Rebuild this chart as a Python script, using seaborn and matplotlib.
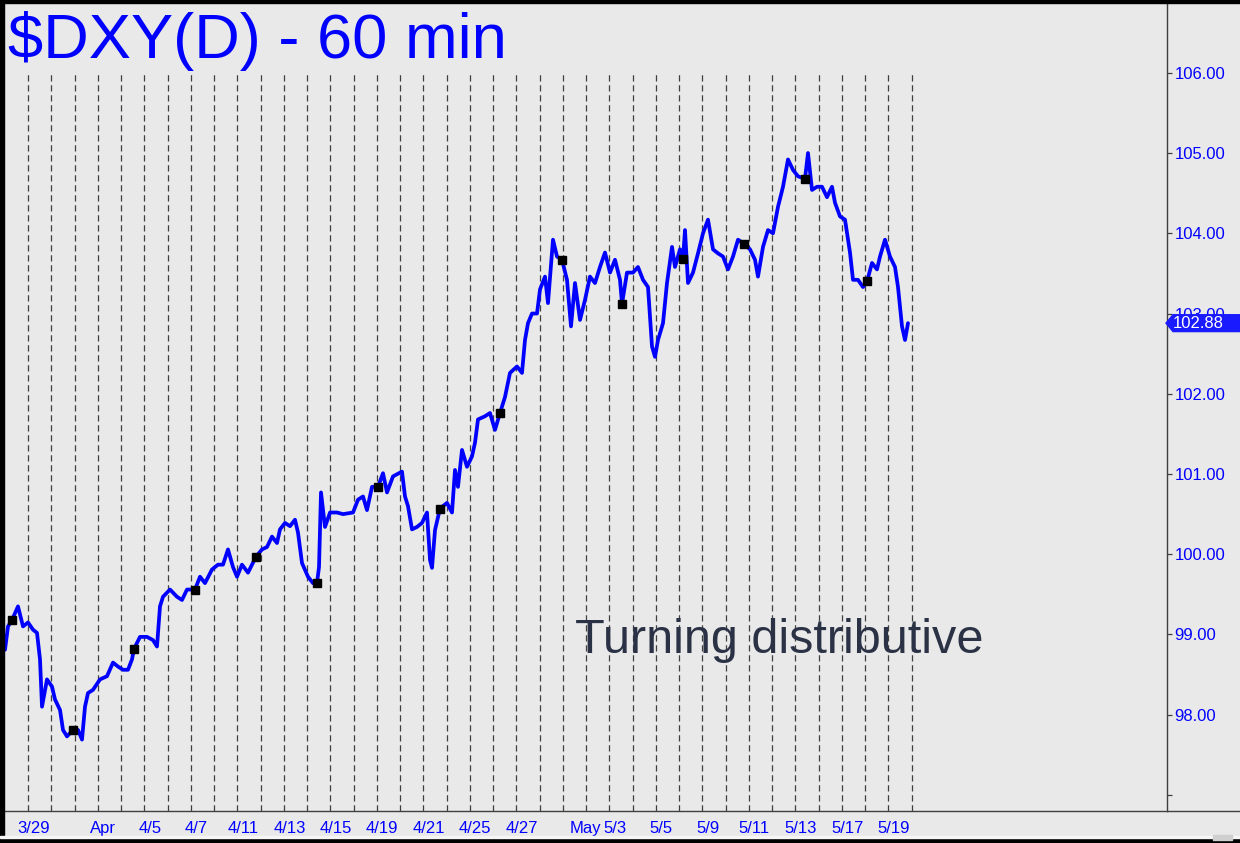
import numpy as np
import pandas as pd
import seaborn as sns
import matplotlib.pyplot as plt
from matplotlib.patches import Rectangle, Polygon
from matplotlib.lines import Line2D
from matplotlib.transforms import blended_transform_factory

# hourly bar number (chart units) and DXY price
BARS = [0, 3, 7, 13, 18, 23, 28, 32, 35, 37, 42, 47, 50, 55, 58, 62, 68, 73, 77, 80,
        83, 88, 95, 102, 108, 113, 118, 123, 127, 129, 135, 142, 148, 152, 155, 158,
        165, 172, 177, 182, 190, 195, 200, 207, 213, 218, 223, 228, 232, 237, 243,
        251, 257, 262, 267, 272, 275, 280, 285, 290, 293, 297, 303, 308, 312, 314,
        316, 320, 325, 332, 338, 348, 353, 358, 362, 367, 373, 378, 382, 388, 397,
        400, 403, 407, 412, 417, 422, 425, 427, 430, 435, 442, 447, 450, 453, 457,
        462, 467, 470, 473, 480, 485, 490, 495, 500, 505, 512, 517, 520, 523, 527,
        532, 535, 540, 543, 548, 552, 557, 562, 566, 570, 575, 580, 585, 590, 595,
        600, 605, 610, 615, 617, 622, 628, 633, 638, 643, 647, 650, 653, 658, 662,
        667, 670, 675, 678, 680, 683, 688, 693, 698, 703, 708, 713, 718, 723, 728,
        733, 739, 745, 750, 753, 758, 763, 768, 773, 778, 783, 788, 793, 800, 803,
        807, 812, 817, 822, 827, 830, 835, 840, 845, 848, 853, 858, 862, 867, 872,
        875, 880, 885, 890, 893, 897, 900, 903]
DXY = [98.81, 99.10, 99.18, 99.35, 99.10, 99.15, 99.06, 99.02, 98.69, 98.10, 98.44,
       98.35, 98.19, 98.06, 97.81, 97.73, 97.81, 97.81, 97.69, 98.10, 98.27, 98.31,
       98.44, 98.48, 98.65, 98.60, 98.56, 98.56, 98.69, 98.82, 98.97, 98.97, 98.93,
       98.85, 99.35, 99.47, 99.56, 99.47, 99.43, 99.56, 99.56, 99.72, 99.64, 99.81,
       99.87, 99.87, 100.06, 99.84, 99.72, 99.87, 99.77, 99.97, 100.06, 100.09,
       100.22, 100.14, 100.31, 100.39, 100.35, 100.43, 100.27, 99.89, 99.72, 99.64,
       99.64, 99.84, 100.77, 100.34, 100.52, 100.52, 100.50, 100.52, 100.68, 100.72,
       100.55, 100.84, 100.84, 101.01, 100.77, 100.97, 101.03, 100.72, 100.60,
       100.31, 100.34, 100.39, 100.52, 99.93, 99.83, 100.30, 100.57, 100.64, 100.52,
       101.05, 100.84, 101.30, 101.09, 101.22, 101.39, 101.68, 101.72, 101.76,
       101.55, 101.76, 101.96, 102.26, 102.34, 102.26, 102.67, 102.88, 103.00,
       103.00, 103.30, 103.46, 103.13, 103.92, 103.71, 103.67, 103.42, 102.84,
       103.38, 102.92, 103.17, 103.46, 103.38, 103.58, 103.76, 103.51, 103.67,
       103.42, 103.12, 103.51, 103.51, 103.58, 103.42, 103.33, 102.59, 102.46,
       102.67, 102.88, 103.38, 103.83, 103.58, 103.80, 103.68, 104.04, 103.38,
       103.51, 103.75, 104.00, 104.17, 103.80, 103.75, 103.71, 103.55, 103.71,
       103.92, 103.87, 103.80, 103.67, 103.46, 103.83, 104.04, 104.00, 104.33,
       104.58, 104.92, 104.79, 104.71, 104.68, 105.00, 104.54, 104.58, 104.58,
       104.45, 104.58, 104.38, 104.21, 104.17, 103.76, 103.42, 103.42, 103.33,
       103.40, 103.63, 103.55, 103.71, 103.92, 103.71, 103.58, 103.33, 102.84,
       102.67, 102.88]

# black square markers
MARK_BARS = [7, 68, 129, 190, 251, 312, 373, 435, 495, 557, 617, 678, 739, 800, 862]
MARK_DXY = [99.18, 97.81, 98.82, 99.56, 99.97, 99.64, 100.84, 100.57, 101.76,
            103.67, 103.12, 103.68, 103.87, 104.68, 103.40]

# x-axis: trading day index -> label
TICK_DAYS = [0, 3, 5, 7, 9, 11, 13, 15, 17, 19, 21, 23.75, 25, 27, 29, 31, 33, 35, 37]
TICK_LABELS = ["3/29", "Apr", "4/5", "4/7", "4/11", "4/13", "4/15", "4/19", "4/21",
               "4/25", "4/27", "May", "5/3", "5/5", "5/9", "5/11", "5/13", "5/17", "5/19"]
N_DAYS = 39
PRICE_TICKS = [97, 98, 99, 100, 101, 102, 103, 104, 105, 106]

BAR0 = 23.0          # bar of the first session divider
BARS_PER_DAY = 23.25

BG = "#e9e9e9"
BLUE = "#0000ff"
GRID = "#404040"

sns.set_style("white", {"axes.facecolor": BG, "figure.facecolor": BG})
plt.rcParams["font.family"] = ["Liberation Sans", "DejaVu Sans"]

W, H = 1240, 843
fig = plt.figure(figsize=(W / 100, H / 100), dpi=100)
fig.patch.set_facecolor(BG)
ax = fig.add_axes([4 / W, (H - 811) / H, (1166.7 - 4) / W, (811 - 3) / H])
ax.set_facecolor(BG)

df = pd.DataFrame({"bar": BARS, "dxy": DXY})

# session dividers
day_lines = BAR0 + np.arange(N_DAYS) * BARS_PER_DAY
ax.vlines(day_lines, 96.8, 106.02, colors=GRID, linewidth=0.9,
          linestyles=(0, (5, 3)), zorder=1)

sns.lineplot(data=df, x="bar", y="dxy", ax=ax, color=BLUE, linewidth=2.7,
             sort=False, estimator=None, zorder=3)
ax.plot(MARK_BARS, MARK_DXY, "s", color="black", markersize=5.2, zorder=4)

ax.set_xlim(-1, 1161.7)
ax.set_ylim(96.80, 106.87)
ax.set_xlabel("")
ax.set_ylabel("")

ax.set_xticks(BAR0 + 5.6 + np.arange(N_DAYS) * BARS_PER_DAY, minor=True)
ax.set_xticks(BAR0 + 5.6 + np.array(TICK_DAYS) * BARS_PER_DAY)
ax.set_xticklabels(TICK_LABELS)
ax.tick_params(axis="x", which="both", direction="out", length=5, width=0.9,
               color=GRID, labelcolor=BLUE, labelsize=12, pad=2)

ax.yaxis.tick_right()
ax.set_yticks(PRICE_TICKS)
ax.set_yticklabels(["" if p == 97 else f"{p:.2f}" for p in PRICE_TICKS])
ax.tick_params(axis="y", direction="out", length=3.6, width=0.9, color=GRID,
               labelcolor=BLUE, labelsize=12, pad=2)

for side in ["left", "top"]:
    ax.spines[side].set_visible(False)
for side in ["right", "bottom"]:
    ax.spines[side].set_color(GRID)
    ax.spines[side].set_linewidth(1)

# bottom rule continues under the price scale
fig.add_artist(Line2D([1166.7 / W, 1], [(H - 811) / H] * 2, color=GRID, lw=1))

# last-price flag (sits over the 103.00 label, as on the original)
last = DXY[-1]
tr = blended_transform_factory(ax.transAxes, ax.transData)
aw = 1162.7
x_tip, x_body, x_end = (1166 - 4) / aw, (1173 - 4) / aw, (1240 - 4) / aw
hh = 0.105
flag = Polygon([(x_tip, last), (x_body, last + hh), (x_end, last + hh),
                (x_end, last - hh), (x_body, last - hh)], closed=True,
               transform=tr, color="#1a1aff", clip_on=False, zorder=10)
ax.add_patch(flag)
ax.text((1173 - 4) / aw, last, f"{last:.2f}", transform=tr, color="white",
        fontsize=12, va="center", ha="left", zorder=11, clip_on=False)

# title and comment
fig.text(8 / W, 1 - 58 / H, "$DXY(D) - 60 min", color=BLUE, fontsize=45.5,
         ha="left", va="baseline")
fig.text(575 / W, 1 - 653 / H, "Turning distributive", color="#2b3245",
         fontsize=35, ha="left", va="baseline")

# window frame
fig.add_artist(Rectangle((0, 0), 4 / W, 1, transform=fig.transFigure,
                         color="black", zorder=20))
fig.add_artist(Rectangle((0, 1 - 3 / H), 1, 3 / H, transform=fig.transFigure,
                         color="black", zorder=20))
fig.add_artist(Rectangle((0, 0), 1, 5 / H, transform=fig.transFigure,
                         color="black", zorder=20))
fig.add_artist(Rectangle((0, 5 / H), 1, 2 / H, transform=fig.transFigure,
                         color="#f6f6f6", zorder=20))
fig.add_artist(Rectangle((1213 / W, 3 / H), 19 / W, 5 / H, transform=fig.transFigure,
                         color="#cfcfcf", zorder=21))

fig.savefig("out.png", dpi=100, facecolor=BG)
